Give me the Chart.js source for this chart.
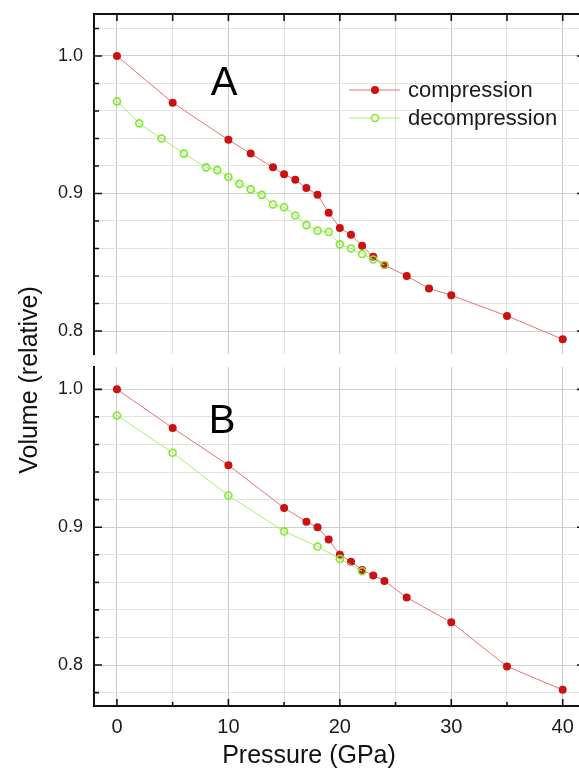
<!DOCTYPE html>
<html lang="en">

<head>
    <meta charset="UTF-8">
    <title>Volume vs Pressure</title>
    <script src="https://cdn.jsdelivr.net/npm/chart.js"></script>
    <style>
        body {
            margin: 0;
            width: 579px;
            height: 772px;
            overflow: hidden;
            background: #ffffff;
            position: relative;
            font-family: "Liberation Sans", Arial, sans-serif;
        }

        canvas {
            position: absolute;
            left: 0;
        }

        #yTitle {
            position: absolute;
            width: 300px;
            left: -122px;
            top: 365px;
            text-align: center;
            font-size: 25px;
            line-height: 30px;
            color: #111;
            transform: rotate(-90deg);
        }
    </style>
</head>

<body>
    <canvas id="chartA" width="600" height="360" style="top:0"></canvas>
    <canvas id="chartB" width="600" height="412" style="top:360px"></canvas>
    <div id="yTitle">Volume (relative)</div>

    <script>
        // Panel A
        const compA_P = [0, 5, 10, 12, 14, 15, 16, 17, 18, 19, 20, 21, 22, 23, 24, 26, 28, 30, 35, 40];
        const compA_V = [1.000, 0.966, 0.939, 0.929, 0.919, 0.914, 0.910, 0.904, 0.899, 0.886, 0.875, 0.870, 0.862, 0.854, 0.848, 0.840, 0.831, 0.826, 0.811, 0.794];
        const decA_P = [0, 2, 4, 6, 8, 9, 10, 11, 12, 13, 14, 15, 16, 17, 18, 19, 20, 21, 22, 23, 24];
        const decA_V = [0.967, 0.951, 0.940, 0.929, 0.919, 0.917, 0.912, 0.907, 0.903, 0.899, 0.892, 0.890, 0.884, 0.877, 0.873, 0.872, 0.863, 0.860, 0.856, 0.852, 0.848];

        // Panel B
        const compB_P = [0, 5, 10, 15, 17, 18, 19, 20, 21, 22, 23, 24, 26, 30, 35, 40];
        const compB_V = [1.000, 0.972, 0.945, 0.914, 0.904, 0.900, 0.891, 0.880, 0.875, 0.869, 0.865, 0.861, 0.849, 0.831, 0.799, 0.782];
        const decB_P = [0, 5, 10, 15, 18, 20, 22];
        const decB_V = [0.981, 0.954, 0.923, 0.897, 0.886, 0.877, 0.868];

        // ticks
        const xTicks = [0, 5, 10, 15, 20, 25, 30, 35, 40];
        const yTicks = [0.78, 0.80, 0.82, 0.84, 0.86, 0.88, 0.90, 0.92, 0.94, 0.96, 0.98, 1.00, 1.02];

        const fontFam = '"Liberation Sans", Arial, sans-serif';
        const redDot = '#cc1111';
        const redLine = '#e07474';
        const greenDot = '#7fea2a';
        const greenLine = '#a6f06a';

        function isMajorY(v) {
            return Math.abs(v * 10 - Math.round(v * 10)) < 1e-6;
        }

        function pts(P, V) {
            return P.map((p, i) => ({ x: p, y: V[i] }));
        }

        function datasets(cP, cV, dP, dV) {
            return [{
                label: 'decompression',
                data: pts(dP, dV),
                borderColor: greenLine,
                borderWidth: 1,
                pointRadius: 3.5,
                pointBorderWidth: 1.6,
                pointBorderColor: greenDot,
                pointBackgroundColor: 'rgba(0,0,0,0)',
                tension: 0,
                order: 0
            }, {
                label: 'compression',
                data: pts(cP, cV),
                borderColor: redLine,
                borderWidth: 1,
                pointRadius: 4,
                pointBorderWidth: 0,
                pointBackgroundColor: redDot,
                tension: 0,
                order: 1
            }];
        }

        // inward ticks, frame and labels
        const framePlugin = {
            id: 'frame',
            afterDraw(chart, args, opts) {
                const ctx = chart.ctx;
                const a = chart.chartArea;
                const xs = chart.scales.x;
                const ys = chart.scales.y;
                ctx.save();
                ctx.strokeStyle = '#111';
                ctx.lineWidth = 2;
                // right axis
                ctx.beginPath();
                ctx.moveTo(a.right, a.top);
                ctx.lineTo(a.right, a.bottom);
                if (opts.top) {
                    ctx.moveTo(a.left - 1, a.top);
                    ctx.lineTo(a.right + 1, a.top);
                }
                ctx.stroke();
                ctx.lineWidth = 1.6;
                ctx.beginPath();
                yTicks.forEach(v => {
                    const y = ys.getPixelForValue(v);
                    if (y < a.top || y > a.bottom) return;
                    const len = isMajorY(v) ? 8 : 5;
                    ctx.moveTo(a.left, y);
                    ctx.lineTo(a.left + len, y);
                    ctx.moveTo(a.right, y);
                    ctx.lineTo(a.right - len, y);
                });
                xTicks.forEach(v => {
                    const x = xs.getPixelForValue(v);
                    if (opts.top) {
                        ctx.moveTo(x, a.top);
                        ctx.lineTo(x, a.top + 7);
                    }
                    if (opts.bottom) {
                        const len = v % 10 === 0 ? 7 : 4;
                        ctx.moveTo(x, a.bottom);
                        ctx.lineTo(x, a.bottom - len);
                    }
                });
                ctx.stroke();

                // panel letter
                ctx.fillStyle = '#000';
                ctx.font = '40px ' + fontFam;
                ctx.textAlign = 'center';
                ctx.textBaseline = 'alphabetic';
                ctx.fillText(opts.letter, opts.letterX, opts.letterY);

                // x title
                if (opts.xTitle) {
                    ctx.font = '25px ' + fontFam;
                    ctx.fillStyle = '#111';
                    ctx.textBaseline = 'middle';
                    ctx.fillText(opts.xTitle, 309, 396);
                }

                // legend
                if (opts.legend) {
                    const rows = [
                        { text: 'compression', y: 90, line: redLine, dot: redDot, filled: true },
                        { text: 'decompression', y: 118, line: greenLine, dot: greenDot, filled: false }
                    ];
                    rows.forEach(r => {
                        ctx.strokeStyle = r.line;
                        ctx.lineWidth = 1;
                        ctx.beginPath();
                        ctx.moveTo(349, r.y);
                        ctx.lineTo(400, r.y);
                        ctx.stroke();
                        ctx.beginPath();
                        if (r.filled) {
                            ctx.arc(375, r.y, 4, 0, Math.PI * 2);
                            ctx.fillStyle = r.dot;
                            ctx.fill();
                        } else {
                            ctx.arc(375, r.y, 3.5, 0, Math.PI * 2);
                            ctx.fillStyle = '#fff';
                            ctx.fill();
                            ctx.strokeStyle = r.dot;
                            ctx.lineWidth = 1.6;
                            ctx.stroke();
                        }
                        ctx.fillStyle = '#1a1a1a';
                        ctx.font = '22px ' + fontFam;
                        ctx.textAlign = 'left';
                        ctx.textBaseline = 'middle';
                        ctx.fillText(r.text, 408, r.y + 1);
                    });
                }
                ctx.restore();
            }
        };

        function makeOptions(yMin, yMax, opts) {
            return {
                responsive: false,
                animation: false,
                layout: { padding: { top: opts.padTop, left: 0, right: 15, bottom: 0 } },
                plugins: {
                    legend: { display: false },
                    tooltip: { enabled: false },
                    frame: opts.frame
                },
                scales: {
                    x: {
                        type: 'linear',
                        min: -2.06,
                        max: 42,
                        afterBuildTicks: s => { s.ticks = xTicks.map(v => ({ value: v })); },
                        afterFit: s => {
                            s.height = opts.xHeight;
                            s.paddingLeft = 0;
                            s.paddingRight = 0;
                        },
                        border: { display: opts.showX, color: '#111', width: 2 },
                        grid: {
                            drawTicks: false,
                            color: c => (c.tick && c.tick.value % 10 === 0) ? '#c9c9c9' : '#e3e3e3'
                        },
                        ticks: {
                            display: opts.showX,
                            padding: 9,
                            color: '#1a1a1a',
                            font: { family: fontFam, size: 20 },
                            callback: v => (v % 10 === 0 ? String(v) : '')
                        }
                    },
                    y: {
                        min: yMin,
                        max: yMax,
                        afterBuildTicks: s => {
                            s.ticks = yTicks.filter(v => v >= yMin && v <= yMax).map(v => ({ value: v }));
                        },
                        afterFit: s => {
                            s.width = 94;
                            s.paddingTop = 0;
                            s.paddingBottom = 0;
                        },
                        border: { color: '#111', width: 2 },
                        grid: {
                            drawTicks: false,
                            color: c => (c.tick && isMajorY(c.tick.value)) ? '#cfcfcf' : '#e3e3e3'
                        },
                        ticks: {
                            padding: 11,
                            color: '#1a1a1a',
                            font: { family: fontFam, size: 18 },
                            callback: v => (isMajorY(v) ? v.toFixed(1) : '')
                        }
                    }
                }
            };
        }

        new Chart(document.getElementById('chartA'), {
            type: 'line',
            data: { datasets: datasets(compA_P, compA_V, decA_P, decA_V) },
            options: makeOptions(0.7833, 1.0305, {
                padTop: 14,
                xHeight: 6,
                showX: false,
                frame: { top: true, bottom: false, letter: 'A', letterX: 224, letterY: 95, legend: true }
            }),
            plugins: [framePlugin]
        });

        new Chart(document.getElementById('chartB'), {
            type: 'line',
            data: { datasets: datasets(compB_P, compB_V, decB_P, decB_V) },
            options: makeOptions(0.7703, 1.0162, {
                padTop: 7,
                xHeight: 66,
                showX: true,
                frame: { top: false, bottom: true, letter: 'B', letterX: 222, letterY: 73, xTitle: 'Pressure (GPa)' }
            }),
            plugins: [framePlugin]
        });
    </script>
</body>

</html>
